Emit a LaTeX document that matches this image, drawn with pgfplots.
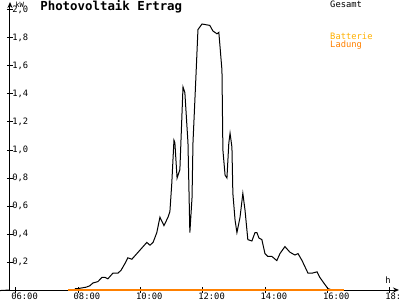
\documentclass[border=0pt]{standalone}
\usepackage{pgfplots}
\pgfplotsset{compat=1.18}
\usetikzlibrary{arrows.meta}
\usepackage{fontspec}
\setmainfont{DejaVu Sans Mono}
\setmonofont{DejaVu Sans Mono}
\definecolor{lad}{HTML}{FF8000}
\definecolor{bat}{HTML}{FFB000}
\newcommand{\tickfont}{\fontsize{4.4}{5}\selectfont}
\begin{document}
\begin{tikzpicture}
\begin{axis}[
  x=15.585pt, y=70pt,
  xmin=5.81, xmax=18.29, ymin=0, ymax=2.057,
  axis lines=left,
  axis line style={line width=0.5pt, -{Stealth[length=3pt,width=2.5pt]}},
  xtick={6,8,10,12,14,16,18},
  xticklabels={\texttt{06:00},\texttt{08:00},\texttt{10:00},\texttt{12:00},\texttt{14:00},\texttt{16:00},\texttt{18:00}},
  ytick={0.2,0.4,0.6,0.8,1.0,1.2,1.4,1.6,1.8,2.0},
  yticklabels={\texttt{0,2},\texttt{0,4},\texttt{0,6},\texttt{0,8},\texttt{1,0},\texttt{1,2},\texttt{1,4},\texttt{1,6},\texttt{1,8},\texttt{2,0}},
  tick align=center, major tick length=3pt,
  tick style={line width=0.5pt, black},
  xticklabel style={anchor=north west, inner sep=0pt, xshift=-2.5pt, yshift=0pt, font=\tickfont},
  yticklabel style={anchor=west, inner sep=0pt, xshift=2.5pt, font=\tickfont},
  clip=false,
]
\addplot[black, line width=0.5pt] coordinates {
(7.89,0.01) (7.99,0.01) (8.25,0.02) (8.37,0.03) (8.47,0.05) (8.63,0.06)
(8.76,0.09) (8.86,0.09) (8.95,0.08) (9.11,0.12) (9.27,0.12) (9.37,0.14)
(9.50,0.19) (9.59,0.23) (9.72,0.22) (9.88,0.26) (10.04,0.30) (10.20,0.34)
(10.30,0.32) (10.40,0.34) (10.52,0.41) (10.62,0.52) (10.75,0.46) (10.88,0.52)
(10.94,0.56) (11.00,0.76) (11.07,1.07) (11.10,1.05) (11.17,0.80) (11.26,0.86)
(11.36,1.45) (11.42,1.41) (11.52,1.05) (11.58,0.41) (11.65,0.66) (11.68,1.05)
(11.77,1.50) (11.84,1.86) (11.97,1.90) (12.22,1.89) (12.32,1.85) (12.45,1.83)
(12.51,1.84) (12.61,1.57) (12.64,1.00) (12.71,0.82) (12.77,0.80) (12.83,1.05)
(12.87,1.12) (12.93,1.02) (12.96,0.69) (13.03,0.50) (13.09,0.41) (13.19,0.52)
(13.28,0.69) (13.35,0.57) (13.44,0.36) (13.57,0.35) (13.67,0.41) (13.73,0.41)
(13.80,0.37) (13.89,0.36) (13.99,0.26) (14.08,0.24) (14.21,0.24) (14.37,0.21)
(14.47,0.26) (14.63,0.31) (14.79,0.27) (14.95,0.25) (15.05,0.26) (15.18,0.21)
(15.37,0.12) (15.50,0.12) (15.66,0.13) (15.75,0.09) (15.91,0.04) (16.01,0.01)
(16.14,0)
};
\addplot[lad, line width=1pt] coordinates {(7.67,0) (16.54,0)};
\coordinate (O) at (axis cs:5.81,0);
\draw[line width=0.5pt] (O) -- ++(-5pt,0);
\draw[line width=0.5pt] (O) -- ++(0,-5pt);
\node[anchor=base west, inner sep=0pt, font=\bfseries\fontsize{6.2}{7}\selectfont] at (axis cs:6.77,1.996) {Photovoltaik Ertrag};
\node[anchor=base west, inner sep=0pt, font=\tickfont] at (axis cs:16.07,2.018) {Gesamt};
\node[anchor=base west, inner sep=0pt, font=\tickfont, text=bat] at (axis cs:16.07,1.792) {Batterie};
\node[anchor=base west, inner sep=0pt, font=\tickfont, text=lad] at (axis cs:16.07,1.735) {Ladung};
\node[anchor=base west, inner sep=0pt, font=\fontsize{3.6}{4}\selectfont] at (axis cs:5.97,2.021) {kW};
\node[anchor=base west, inner sep=0pt, font=\tickfont] at (axis cs:17.84,0.043) {h};
\end{axis}
\pgfresetboundingbox
\path ([shift={(-5pt,-5pt)}]O) rectangle ([shift={(195pt,145pt)}]O);
\end{tikzpicture}
\end{document}
